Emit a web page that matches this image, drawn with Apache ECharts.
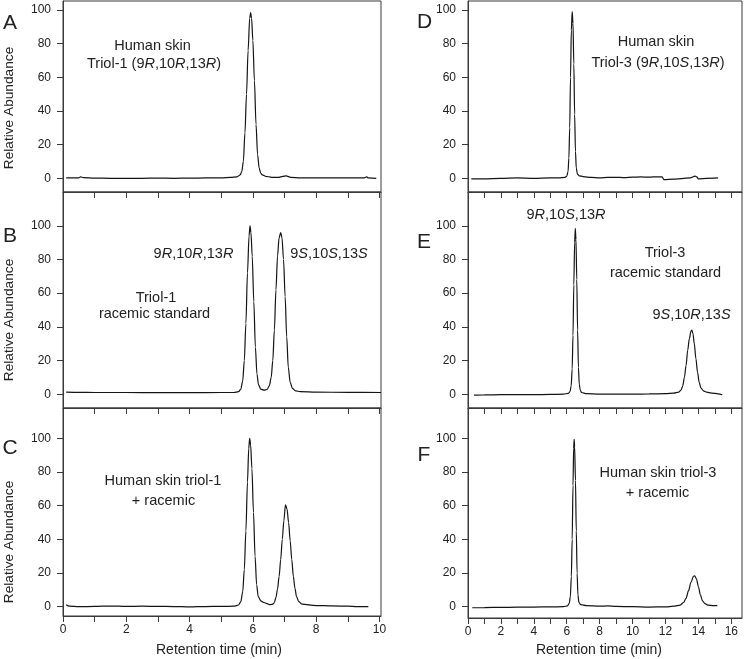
<!DOCTYPE html>
<html>
<head>
<meta charset="utf-8">
<script src="https://cdn.jsdelivr.net/npm/echarts@6/dist/echarts.min.js"></script>
<style>
html,body{margin:0;padding:0;background:#fff;}
#chart{width:745px;height:659px;}
</style>
</head>
<body>
<div id="chart"></div>
<script>
// ---------- data (retention time in min, relative abundance %) ----------
var timeA = [0.1,0.5,0.55,0.65,1.0,1.5,2.0,2.5,3.0,3.5,4.0,4.5,5.0,5.3,5.5,5.6,5.65,5.7,5.75,5.8,5.85,5.9,5.93,5.96,6.0,6.05,6.1,6.15,6.2,6.25,6.3,6.4,6.6,6.8,6.95,7.05,7.2,7.5,8.0,8.5,9.0,9.5,9.6,9.65,9.9];
var abundA = [0.3,0.3,0.8,0.4,0.1,0,-0.1,0,0.1,0,0.1,0.2,0.3,0.5,0.9,2,4,10,27,50,76,95,98.5,95,82,58,32,14,6,3,2,1.2,0.6,0.5,1.2,1.4,0.6,0.3,0.3,0.2,0.3,0.2,0.8,0.2,0];

var timeB = [0.1,0.5,1,2,3,4,5,5.4,5.55,5.62,5.68,5.73,5.78,5.83,5.88,5.91,5.94,5.98,6.03,6.08,6.13,6.18,6.25,6.35,6.45,6.52,6.58,6.63,6.68,6.73,6.78,6.83,6.88,6.92,6.97,7.02,7.07,7.12,7.18,7.25,7.35,7.5,8,9,10.05];
var abundB = [1.2,1.1,1.0,1.0,0.9,0.9,1.0,1.0,1.5,3,8,20,42,72,94,100,96,82,55,28,12,5.5,3,2.4,2.8,5,10,20,38,62,82,93,96,93,80,58,34,16,7,3.5,2,1.5,1.2,1.1,1.0];

var timeC = [0.1,0.2,0.5,1,1.5,2,2.5,3,3.5,4,4.5,5,5.4,5.55,5.62,5.68,5.73,5.78,5.83,5.87,5.9,5.93,5.97,6.02,6.07,6.12,6.17,6.25,6.35,6.45,6.55,6.63,6.68,6.73,6.78,6.83,6.88,6.93,6.98,7.03,7.08,7.13,7.18,7.23,7.28,7.33,7.38,7.45,7.55,8,8.5,9,9.3,9.65];
var abundC = [1.2,0.3,0,0.2,0.4,0.2,0.3,0.2,0.1,-0.1,0.1,0.2,0.3,1,3,9,22,45,74,94,100,96,82,56,30,13,6,3.5,2.5,1.8,1.2,1.5,2.5,5.5,10.5,18,28,40,51,60.5,58,50,39,28,18,11,6,3,1.5,0.7,0.5,0.3,0,0];

var timeD = [0.2,1,2,3,4,5,5.5,5.9,6.0,6.08,6.13,6.18,6.23,6.28,6.33,6.38,6.43,6.48,6.53,6.58,6.65,6.75,7,7.5,8,8.5,9,9.5,10,10.5,11,11.5,11.8,11.9,12.5,13,13.5,13.8,13.9,14.0,14.5,15.2];
var abundD = [-0.4,-0.3,0,0.2,-0.1,0.2,0.3,0.6,1.2,4,12,30,60,88,99,92,68,38,16,6,2.5,1.5,1,0.5,0.3,0.5,0.6,0.4,0.7,0.8,0.7,0.9,0.9,-0.8,-0.5,-0.2,0.3,1.3,0.8,-0.3,0,0.2];

var timeE = [0.36,1,2,3,4,5,5.8,6.1,6.2,6.27,6.33,6.38,6.43,6.48,6.52,6.56,6.61,6.66,6.71,6.76,6.82,6.9,7.2,8,9,10,11,12,12.5,12.8,12.95,13.05,13.15,13.25,13.35,13.45,13.55,13.6,13.67,13.75,13.85,13.95,14.05,14.15,14.3,14.5,14.8,15.2,15.45];
var abundE = [-0.5,-0.4,-0.3,-0.2,-0.3,-0.1,0,0.5,1.5,5,15,35,65,90,98.5,92,68,38,16,6,2.5,1,0.3,0,0.1,0,0.2,0.3,0.6,1.2,2.5,5,10,17,26,33,37.5,38,36,30,21,13,7,3.8,2,1.2,0.7,0.2,-0.3];

var timeF = [0.26,1,2,3,4,5,5.8,6.05,6.15,6.22,6.28,6.33,6.38,6.42,6.45,6.48,6.53,6.58,6.63,6.68,6.74,6.85,7.2,8,8.5,9,10,11,12,12.5,12.9,13.1,13.25,13.4,13.55,13.7,13.78,13.88,14.0,14.12,14.25,14.4,14.6,14.9,15.15];
var abundF = [-0.6,-0.5,-0.4,-0.3,-0.2,-0.1,0,0.5,2,6,18,40,72,94,99.4,95,75,45,20,7,2.5,1.2,0.6,0.3,0.5,0.2,0,-0.2,-0.1,0.3,1,2.5,5,9.5,14.5,18,18.4,16.5,12,7,3.5,1.8,0.9,0.6,0.6];

var xTicksLeft = [0,1,2,3,4,5,6,7,8,9,10];
var xLabelsLeft = [0,2,4,6,8,10];
var xTicksRight = [0,1,2,3,4,5,6,7,8,9,10,11,12,13,14,15,16];
var xLabelsRight = [0,2,4,6,8,10,12,14,16];
var yTicks = [0,20,40,60,80,100];

var panelLetters = ['A','B','C','D','E','F'];
var xAxisTitle = 'Retention time (min)';
var yAxisTitle = 'Relative Abundance';

// ---------- layout ----------
var FONT = '"Liberation Sans", Arial, Helvetica, sans-serif';
var AXC = '#3a3a3a', TXC = '#222';

var panels = [
  {t: timeA, v: abundA, left: 63, width: 318, top: 1, height: 191, xmax: 10.05, ymin: -8.14, ymax: 105.35, ticks: xTicksLeft, labels: xLabelsLeft, showX: false},
  {t: timeB, v: abundB, left: 63, width: 318, top: 192, height: 216, xmax: 10.05, ymin: -8.19, ymax: 120.07, ticks: xTicksLeft, labels: xLabelsLeft, showX: false},
  {t: timeC, v: abundC, left: 63, width: 318, top: 408, height: 208, xmax: 10.05, ymin: -5.52, ymax: 118.0, ticks: xTicksLeft, labels: xLabelsLeft, showX: true},
  {t: timeD, v: abundD, left: 468, width: 274, top: 1, height: 191, xmax: 16.65, ymin: -8.14, ymax: 105.35, ticks: xTicksRight, labels: xLabelsRight, showX: false},
  {t: timeE, v: abundE, left: 468, width: 274, top: 192, height: 216, xmax: 16.65, ymin: -8.19, ymax: 120.07, ticks: xTicksRight, labels: xLabelsRight, showX: false},
  {t: timeF, v: abundF, left: 468, width: 274, top: 408, height: 210, xmax: 16.65, ymin: -6.7, ymax: 118.0, ticks: xTicksRight, labels: xLabelsRight, showX: true}
];

var grids = [], xAxes = [], yAxes = [], series = [];
panels.forEach(function (p, i) {
  grids.push({left: p.left, width: p.width, top: p.top, height: p.height, show: true,
    borderColor: AXC, borderWidth: 1, backgroundColor: 'transparent', containLabel: false});
  xAxes.push({type: 'value', gridIndex: i, min: 0, max: p.xmax, interval: 1,
    axisLine: {show: true, onZero: false, lineStyle: {color: AXC, width: 1}},
    axisTick: {show: true, length: 6, customValues: p.ticks, lineStyle: {color: AXC, width: 1}},
    axisLabel: {show: p.showX, customValues: p.labels, margin: 8, fontSize: 12, color: TXC, fontFamily: FONT,
      formatter: function (val) { return (Math.round(val) % 2 === 0 && Math.abs(val - Math.round(val)) < 1e-6) ? String(Math.round(val)) : ''; }},
    splitLine: {show: false}});
  yAxes.push({type: 'value', gridIndex: i, min: p.ymin, max: p.ymax,
    axisLine: {show: true, onZero: false, lineStyle: {color: AXC, width: 1}},
    axisTick: {show: true, length: 6, customValues: yTicks, lineStyle: {color: AXC, width: 1}},
    axisLabel: {show: true, customValues: yTicks, margin: 12, fontSize: 12, color: TXC, fontFamily: FONT},
    splitLine: {show: false}});
  var d = p.t.map(function (t, k) { return [t, p.v[k]]; });
  series.push({type: 'line', xAxisIndex: i, yAxisIndex: i, data: d, showSymbol: false,
    smooth: 0.3, smoothMonotone: 'x', lineStyle: {color: '#141414', width: 1.2}, silent: true});
});

function txt(x, y, text, size, extra) {
  var s = {text: text, x: 0, y: 0, fill: TXC, fontSize: size, fontFamily: FONT, align: 'center', verticalAlign: 'middle'};
  if (extra) for (var k in extra) s[k] = extra[k];
  return {type: 'text', x: x, y: y, style: s, silent: true};
}
var AN = 14.5;
var italicRich = {i: {fontStyle: 'italic', fontSize: AN, fontFamily: FONT, fill: TXC}};
function rtxt(x, y, text) { return txt(x, y, text, AN, {rich: italicRich}); }

var graphics = [
  txt(10, 23, panelLetters[0], 21), txt(10, 236, panelLetters[1], 21), txt(10, 448.5, panelLetters[2], 21),
  txt(424.5, 22, panelLetters[3], 21), txt(424, 242.5, panelLetters[4], 21), txt(424, 455, panelLetters[5], 21),
  // y axis titles
  {type: 'text', x: 9.5, y: 108, rotation: Math.PI / 2, silent: true,
    style: {text: yAxisTitle, fill: TXC, fontSize: 13.7, fontFamily: FONT, align: 'center', verticalAlign: 'middle'}},
  {type: 'text', x: 9.5, y: 320, rotation: Math.PI / 2, silent: true,
    style: {text: yAxisTitle, fill: TXC, fontSize: 13.7, fontFamily: FONT, align: 'center', verticalAlign: 'middle'}},
  {type: 'text', x: 9.5, y: 542, rotation: Math.PI / 2, silent: true,
    style: {text: yAxisTitle, fill: TXC, fontSize: 13.7, fontFamily: FONT, align: 'center', verticalAlign: 'middle'}},
  // x axis titles
  txt(219, 650, xAxisTitle, 14), txt(599, 650, xAxisTitle, 14),
  // panel A
  txt(152.5, 46, 'Human skin', AN), rtxt(154, 63.5, 'Triol-1 (9{i|R},10{i|R},13{i|R})'),
  // panel B
  rtxt(193.5, 254, '9{i|R},10{i|R},13{i|R}'), rtxt(329, 254, '9{i|S},10{i|S},13{i|S}'),
  txt(156, 297.5, 'Triol-1', AN), txt(154.5, 314, 'racemic standard', AN),
  // panel C
  txt(163, 481, 'Human skin triol-1', AN), txt(163.5, 500.5, '+ racemic', AN),
  // panel D
  txt(656, 41.5, 'Human skin', AN), rtxt(658, 63, 'Triol-3 (9{i|R},10{i|S},13{i|R})'),
  // panel E
  rtxt(566, 214.5, '9{i|R},10{i|S},13{i|R}'), txt(665, 252.5, 'Triol-3', AN), txt(665.5, 272.5, 'racemic standard', AN),
  rtxt(691.5, 314.5, '9{i|S},10{i|R},13{i|S}'),
  // panel F
  txt(658, 473, 'Human skin triol-3', AN), txt(657.5, 493, '+ racemic', AN)
];

var chart = echarts.init(document.getElementById('chart'), null, {renderer: 'canvas'});
chart.setOption({
  animation: false,
  backgroundColor: '#fff',
  grid: grids, xAxis: xAxes, yAxis: yAxes, series: series,
  graphic: graphics
});
</script>
</body>
</html>
